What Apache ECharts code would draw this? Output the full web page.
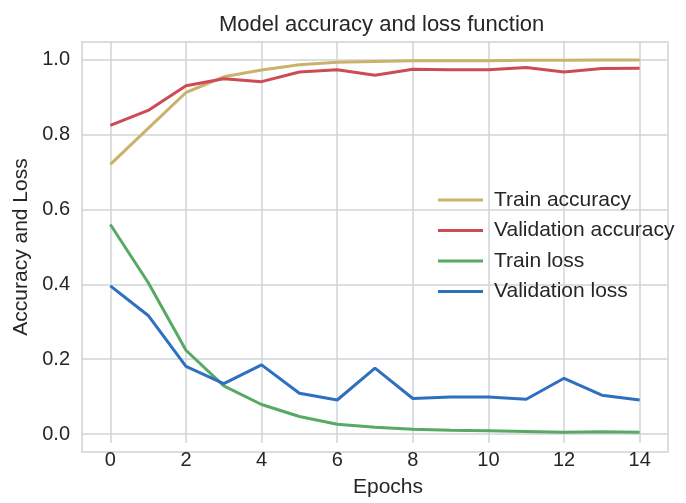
<!DOCTYPE html>
<html>
<head>
<meta charset="utf-8">
<script src="https://cdn.jsdelivr.net/npm/echarts@6/dist/echarts.min.js"></script>
<style>
  html, body { margin: 0; padding: 0; background: #fff; }
  #chart { width: 686px; height: 503px; }
</style>
</head>
<body>
<div id="chart"></div>
<script>
var epochs = [0, 1, 2, 3, 4, 5, 6, 7, 8, 9, 10, 11, 12, 13, 14];
var trainAcc = [0.721, 0.817, 0.913, 0.955, 0.973, 0.987, 0.994, 0.996, 0.998, 0.998, 0.998, 0.999, 0.999, 1.0, 1.0];
var valAcc = [0.825, 0.865, 0.931, 0.950, 0.942, 0.968, 0.974, 0.959, 0.975, 0.974, 0.974, 0.980, 0.968, 0.977, 0.978];
var trainLoss = [0.560, 0.405, 0.224, 0.129, 0.079, 0.047, 0.026, 0.018, 0.013, 0.010, 0.009, 0.007, 0.005, 0.006, 0.005];
var valLoss = [0.396, 0.317, 0.181, 0.135, 0.185, 0.109, 0.091, 0.176, 0.095, 0.099, 0.099, 0.093, 0.149, 0.104, 0.091];
var xTicks = [0, 2, 4, 6, 8, 10, 12, 14];
var yTicks = [0.0, 0.2, 0.4, 0.6, 0.8, 1.0];

var W = 686, H = 503;
// plot frame (pixels) and the data range it covers, matplotlib style margins
var frame = { left: 82, right: 668, top: 42, bottom: 452 };
var xMin = -0.75, xMax = 14.75, yMin = -0.048, yMax = 1.048;

function px(v) { return frame.left + (v - xMin) / (xMax - xMin) * (frame.right - frame.left); }
function py(v) { return frame.bottom - (v - yMin) / (yMax - yMin) * (frame.bottom - frame.top); }

var font = 'Liberation Sans, Arial, sans-serif';
var txt = '#262626';
var gridCol = '#cfd4d8';

function pairs(arr) {
  var out = [];
  for (var i = 0; i < epochs.length; i++) out.push([epochs[i], arr[i]]);
  return out;
}

function line(name, data, color) {
  return {
    name: name, type: 'line', xAxisIndex: 0, yAxisIndex: 0,
    data: pairs(data), showSymbol: false, symbol: 'none', clip: false,
    lineStyle: { color: color, width: 3 }, itemStyle: { color: color }
  };
}

var chart = echarts.init(document.getElementById('chart'), null, { renderer: 'canvas' });

var option = {
  animation: false,
  backgroundColor: '#fff',
  title: {
    text: 'Model accuracy and loss function',
    left: 214, top: 9,
    textStyle: { fontFamily: font, fontSize: 22, fontWeight: 'normal', color: txt }
  },
  legend: {
    orient: 'vertical', left: 433, top: 184,
    icon: 'rect', itemWidth: 45, itemHeight: 3, itemGap: 8.5,
    data: ['Train accuracy', 'Validation accuracy', 'Train loss', 'Validation loss'],
    textStyle: { fontFamily: font, fontSize: 21, color: txt, lineHeight: 22, padding: [0, 0, 0, 6] }
  },
  grid: [
    { left: frame.left, right: W - frame.right, top: frame.top, bottom: H - frame.bottom,
      show: true, borderColor: gridCol, borderWidth: 1.5, backgroundColor: 'transparent' },
    { left: px(0), right: W - px(14), top: frame.top, bottom: H - frame.bottom },
    { left: frame.left, right: W - frame.right, top: py(1), bottom: H - py(0) }
  ],
  xAxis: [
    { gridIndex: 0, type: 'value', min: xMin, max: xMax, show: false },
    { gridIndex: 1, type: 'value', min: 0, max: 14, interval: 2,
      axisLine: { show: false }, axisTick: { show: false },
      splitLine: { show: true, lineStyle: { color: gridCol, width: 1.5 } },
      axisLabel: { margin: 7, fontFamily: font, fontSize: 20, color: txt,
        formatter: function (v) { return xTicks.indexOf(v) >= 0 ? String(v) : ''; } },
      name: 'Epochs', nameLocation: 'middle', nameGap: 34,
      nameTextStyle: { fontFamily: font, fontSize: 21, color: txt, padding: [0, 0, 0, 26] } },
    { gridIndex: 2, type: 'value', min: 0, max: 1, show: false }
  ],
  yAxis: [
    { gridIndex: 0, type: 'value', min: yMin, max: yMax, show: false },
    { gridIndex: 1, type: 'value', min: 0, max: 1, show: false },
    { gridIndex: 2, type: 'value', min: 0, max: 1, interval: 0.2,
      axisLine: { show: false }, axisTick: { show: false },
      splitLine: { show: true, lineStyle: { color: gridCol, width: 1.5 } },
      axisLabel: { margin: 12, fontFamily: font, fontSize: 20, color: txt,
        formatter: function (v) { return v.toFixed(1); } },
      name: 'Accuracy and Loss', nameLocation: 'middle', nameGap: 46,
      nameTextStyle: { fontFamily: font, fontSize: 21, color: txt } }
  ],
  series: [
    line('Train accuracy', trainAcc, '#cbb26b'),
    line('Validation accuracy', valAcc, '#cc4b55'),
    line('Train loss', trainLoss, '#57a965'),
    line('Validation loss', valLoss, '#2f6fbf')
  ]
};

chart.setOption(option);
</script>
</body>
</html>
